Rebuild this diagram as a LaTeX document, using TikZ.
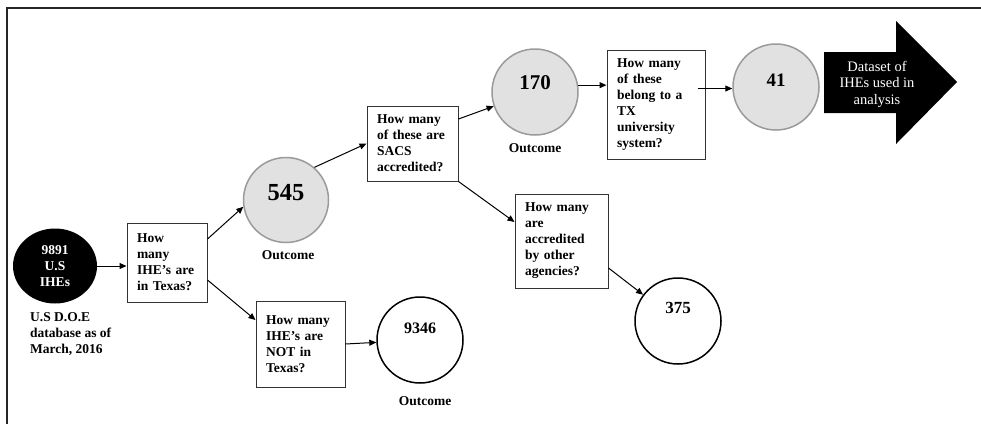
\documentclass[tikz,border=0pt]{standalone}
\usepackage{fontspec}
\setmainfont{Liberation Serif}
\usetikzlibrary{arrows.meta,shapes.geometric}
\newcommand\myqfont{\fontsize{13.5}{16}\selectfont\bfseries}
\definecolor{circgray}{HTML}{E1E1E1}
\definecolor{circedge}{HTML}{9A9A9A}
\definecolor{boxedge}{HTML}{333333}
\tikzset{
  qbox/.style={draw=boxedge, line width=1pt, align=left, inner xsep=10pt, inner ysep=3pt, font=\myqfont},
  gcirc/.style={circle, draw=circedge, fill=circgray, line width=1.5pt, inner sep=0pt, minimum size=86pt},
  wcirc/.style={circle, draw=black, line width=1.5pt, inner sep=0pt, minimum size=86pt},
  arr/.style={-{Triangle[length=7pt,width=6pt]}, line width=1pt},
  outc/.style={font=\myqfont, inner sep=0pt},
  numtxt/.style={font=\bfseries\fontsize{#1}{#1}\selectfont, inner sep=0pt},
}
\begin{document}
\begin{tikzpicture}[x=1pt,y=-1pt]
\useasboundingbox (0,0) rectangle (981,424);
% frame
\draw[line width=2pt, black!85] (7,424) -- (7,8) -- (981,8);

% start node
\node[ellipse, fill=black, minimum width=84pt, minimum height=75pt, inner sep=0pt,
      text=white, align=center, font=\myqfont] (c1) at (55,266) {9891\\U.S\\IHEs};
\node[font=\myqfont, align=left, anchor=west, inner sep=0pt] (src) at (30,334)
  {U.S D.O.E\\database as of\\March, 2016};

% boxes
\node[qbox, minimum width=80pt, minimum height=79pt, text width=60pt] (b1) at (167,262.5)
  {How\\many\\IHE’s are\\in Texas?};
\node[qbox, minimum width=89pt, minimum height=86pt, text width=69pt] (b2) at (300.5,344)
  {How many\\IHE’s are\\NOT in\\Texas?};
\node[qbox, minimum width=91pt, minimum height=75pt, text width=71pt] (b3) at (412.5,143.5)
  {How many\\of these are\\SACS\\accredited?};
\node[qbox, minimum width=93pt, minimum height=94pt, text width=73pt] (b4) at (561.5,241)
  {How many\\are\\accredited\\by other\\agencies?};
\node[qbox, minimum width=98pt, minimum height=109pt, text width=78pt] (b5) at (656,104.5)
  {How many\\of these\\belong to a\\TX\\university\\system?};

% circles
\node[gcirc, minimum size=85pt] (c3) at (286,200) {};
\node[numtxt=24.5] (n3) at (286,193) {545};
\node[outc] (o3) at (288,255) {Outcome};

\node[wcirc] (c2) at (420,340) {};
\node[numtxt=16] (n2) at (420,328) {9346};
\node[outc] (o2) at (425,401) {Outcome};

\node[gcirc] (c4) at (535,92) {};
\node[numtxt=21] (n4) at (535,83) {170};
\node[outc] (o4) at (535,148) {Outcome};

\node[wcirc] (c5) at (678,321) {};
\node[numtxt=17] (n5) at (678,308) {375};

\node[gcirc] (c6) at (776,87) {};
\node[numtxt=19] (n6) at (776,80) {41};

% big arrow
\fill[black] (824,52) -- (896,52) -- (896,21) -- (957,82) -- (896,144) -- (896,113) -- (824,113) -- cycle;
\node[text=white, align=center, font=\fontsize{14.5}{16.5}\selectfont, inner sep=0pt] (ds) at (877,84)
  {Dataset of\\IHEs used in\\analysis};

% connectors
\draw[arr] (c1.east) -- (c1.east -| b1.west);
\draw[arr] ([yshift=23.5pt]b1.east) -- (c3.189);
\draw[arr] ([yshift=-17.5pt]b1.east) -- ([yshift=24pt]b2.west);
\draw[arr] (b2.east) -- (c2);
\draw[arr] (c3.49) -- (b3.west);
\draw[arr] ([yshift=24.5pt]b3.east) -- (c4.199);
\draw[arr] (b3.south east) -- ([yshift=19pt]b4.west);
\draw[arr] (c4.9) -- (c4.9 -| b5.west);
\draw[arr] ([xshift=-8pt]b5.east |- c6.182) -- (c6.182);
\draw[arr] ([yshift=-27pt]b4.east) -- (c5.143);
\end{tikzpicture}
\end{document}
